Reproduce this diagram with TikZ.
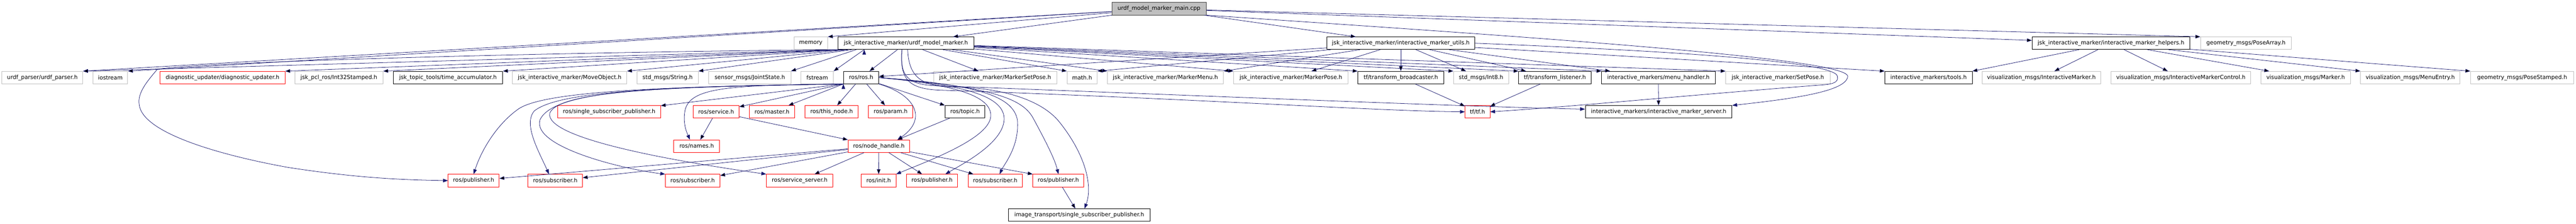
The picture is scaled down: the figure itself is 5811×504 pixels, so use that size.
\documentclass[tikz,border=0pt]{standalone}
\usepackage{fontspec}
\setmainfont{DejaVu Sans}
\usetikzlibrary{arrows.meta}
\definecolor{edgeblue}{HTML}{191970}
\definecolor{boxgrey}{HTML}{BFBFBF}
\definecolor{boxdark}{HTML}{404040}

\begin{document}
\begin{tikzpicture}[x=1pt, y=-1pt,
    every node/.style={font=\fontsize{12.6}{14}\selectfont, minimum height=28pt, inner sep=2pt, line width=1pt},
    gbox/.style={draw=boxgrey, fill=white},
    rbox/.style={draw=red, fill=white},
    bbox/.style={draw=black, fill=white},
    mainbox/.style={draw=boxdark, fill=boxgrey},
    incl/.style={draw=edgeblue, line width=0.9pt, -{Triangle[length=11pt, width=8pt]}}]
    \fill[white] (0,0) rectangle (5811,504);
    \useasboundingbox (0,0) rectangle (5811,504);

    % top file
    \node[mainbox, minimum width=213pt] (main) at (2614.5,19.7) {urdf\_model\_marker\_main.cpp};

    % first level
    \node[gbox, minimum width=76pt] (memory) at (1829,97.3) {memory};
    \node[bbox, minimum width=307pt] (umm) at (2043.5,97.3) {jsk\_interactive\_marker/urdf\_model\_marker.h};
    \node[bbox, minimum width=334pt] (utils) at (3160,97.3) {jsk\_interactive\_marker/interactive\_marker\_utils.h};
    \node[bbox, minimum width=356pt] (helpers) at (4762,97.3) {jsk\_interactive\_marker/interactive\_marker\_helpers.h};
    \node[gbox, minimum width=205pt] (posearray) at (5066.5,97.3) {geometry\_msgs/PoseArray.h};

    % second level
    \node[gbox, minimum width=183pt] (urdfparser) at (95.5,174.7) {urdf\_parser/urdf\_parser.h};
    \node[gbox, minimum width=78pt] (iostream) at (249,174.7) {iostream};
    \node[rbox, minimum width=282pt] (diag) at (502,174.7) {diagnostic\_updater/diagnostic\_updater.h};
    \node[gbox, minimum width=199pt] (int32) at (764.5,174.7) {jsk\_pcl\_ros/Int32Stamped.h};
    \node[bbox, minimum width=247pt] (timeacc) at (1010.5,174.7) {jsk\_topic\_tools/time\_accumulator.h};
    \node[gbox, minimum width=258pt] (moveobj) at (1285,174.7) {jsk\_interactive\_marker/MoveObject.h};
    \node[gbox, minimum width=138pt] (string) at (1506,174.7) {std\_msgs/String.h};
    \node[gbox, minimum width=185pt] (jointstate) at (1691.5,174.7) {sensor\_msgs/JointState.h};
    \node[gbox, minimum width=73pt] (fstream) at (1843.5,174.7) {fstream};
    \node[bbox, minimum width=79pt] (rosh) at (1942.5,174.7) {ros/ros.h};
    \node[gbox, minimum width=278pt] (markersetpose) at (2245,174.7) {jsk\_interactive\_marker/MarkerSetPose.h};
    \node[gbox, minimum width=68pt] (math) at (2441,174.7) {math.h};
    \node[gbox, minimum width=262pt] (markermenu) at (2629,174.7) {jsk\_interactive\_marker/MarkerMenu.h};
    \node[gbox, minimum width=258pt] (markerpose) at (2912,174.7) {jsk\_interactive\_marker/MarkerPose.h};
    \node[bbox, minimum width=194pt] (broadcaster) at (3160,174.7) {tf/transform\_broadcaster.h};
    \node[gbox, minimum width=124pt] (int8) at (3341,174.7) {std\_msgs/Int8.h};
    \node[bbox, minimum width=163pt] (listener) at (3507.5,174.7) {tf/transform\_listener.h};
    \node[bbox, minimum width=256pt] (menuhandler) at (3741,174.7) {interactive\_markers/menu\_handler.h};
    \node[gbox, minimum width=235pt] (setpose) at (4010.5,174.7) {jsk\_interactive\_marker/SetPose.h};
    \node[bbox, minimum width=197pt] (tools) at (4350.5,174.7) {interactive\_markers/tools.h};
    \node[gbox, minimum width=268pt] (intmarker) at (4605,174.7) {visualization\_msgs/InteractiveMarker.h};
    \node[gbox, minimum width=315pt] (intmarkerctrl) at (4919.5,174.7) {visualization\_msgs/InteractiveMarkerControl.h};
    \node[gbox, minimum width=202pt] (marker) at (5201,174.7) {visualization\_msgs/Marker.h};
    \node[gbox, minimum width=224pt] (menuentry) at (5437,174.7) {visualization\_msgs/MenuEntry.h};
    \node[gbox, minimum width=233pt] (posestamped) at (5689.5,174.7) {geometry\_msgs/PoseStamped.h};

    % third level
    \node[rbox, minimum width=232pt] (singlesubpub) at (1374,251.8) {ros/single\_subscriber\_publisher.h};
    \node[rbox, minimum width=103pt] (service) at (1615.5,251.8) {ros/service.h};
    \node[rbox, minimum width=103pt] (master) at (1741.5,251.8) {ros/master.h};
    \node[rbox, minimum width=120pt] (thisnode) at (1876,251.8) {ros/this\_node.h};
    \node[rbox, minimum width=100pt] (param) at (2009,251.8) {ros/param.h};
    \node[bbox, minimum width=90pt] (topic) at (2177,251.8) {ros/topic.h};
    \node[rbox, minimum width=56pt] (tf) at (3333,251.8) {tf/tf.h};
    \node[bbox, minimum width=331pt] (server) at (3741.5,251.8) {interactive\_markers/interactive\_marker\_server.h};

    % fourth level
    \node[rbox, minimum width=103pt] (names) at (1571.5,329.2) {ros/names.h};
    \node[rbox, minimum width=139pt] (nodehandle) at (1982.5,329.2) {ros/node\_handle.h};

    % fifth level
    \node[rbox, minimum width=115pt] (pubA) at (1068.5,406.7) {ros/publisher.h};
    \node[rbox, minimum width=123pt] (subA) at (1252.5,406.7) {ros/subscriber.h};
    \node[rbox, minimum width=123pt] (subB) at (1562.5,406.7) {ros/subscriber.h};
    \node[rbox, minimum width=150pt] (servserv) at (1804,406.7) {ros/service\_server.h};
    \node[rbox, minimum width=78pt] (init) at (1982,406.7) {ros/init.h};
    \node[rbox, minimum width=115pt] (pubB) at (2102.5,406.7) {ros/publisher.h};
    \node[rbox, minimum width=122pt] (subC) at (2245,406.7) {ros/subscriber.h};
    \node[rbox, minimum width=115pt] (pubC) at (2387.5,406.7) {ros/publisher.h};

    \node[bbox, minimum width=319pt] (imgtrans) at (2434.5,484.2) {image\_transport/single\_subscriber\_publisher.h};

    % includes of the main file
    \path[incl] (main) edge (urdfparser.north east) (main) edge (iostream.north east)
        (main) edge (memory.north east) (main) edge (umm) (main) edge (utils)
        (main) edge (helpers) (main) edge (posearray.north west);
    \draw[incl] (main.south east) .. controls (3400,80) and (4170,130) .. (4168,172)
        .. controls (4166,205) and (4050,222) .. (server.north east);

    % includes of urdf_model_marker.h
    \path[incl] ([xshift=6pt]umm.south west) edge (urdfparser.north east)
        ([xshift=10pt]umm.south west) edge (diag.north east)
        ([xshift=14pt]umm.south west) edge (int32.north east)
        ([xshift=18pt]umm.south west) edge (timeacc.north east)
        ([xshift=24pt]umm.south west) edge (moveobj.north east)
        ([xshift=32pt]umm.south west) edge (string.north east)
        ([xshift=42pt]umm.south west) edge (jointstate.north east)
        ([xshift=60pt]umm.south west) edge (fstream.north east)
        (umm) edge (rosh) (umm) edge (markersetpose) (umm) edge (math.north west)
        (umm) edge (markermenu.north west) (umm) edge (markerpose.north west)
        (umm) edge (broadcaster.north west) (umm) edge (int8.north west)
        (umm) edge (listener.north west) (umm) edge (menuhandler.north west)
        (umm) edge (setpose.north west);
    \draw[incl] ([xshift=3pt]umm.south west) .. controls (1200,118) and (450,140) .. (355,156)
        .. controls (330,185) and (310,210) .. (314,235)
        .. controls (320,300) and (500,350) .. (650,377)
        .. controls (800,400) and (900,405) .. (pubA.west);
    \draw[incl] ([xshift=4pt]umm.south) .. controls (2050,170) and (2075,195) .. (2150,196)
        .. controls (2260,197) and (2350,225) .. (2390,275)
        .. controls (2450,350) and (2465,420) .. ([xshift=12pt]imgtrans.north);
    \draw[incl] ([xshift=-9pt]umm.south) .. controls (2030,170) and (2045,190) .. (2110,193)
        .. controls (2700,215) and (3300,240) .. ([yshift=6pt]server.west);
    \draw[incl] ([xshift=-9pt]umm.south) .. controls (2030,175) and (2045,200) .. (2120,203)
        .. controls (2700,222) and (3100,250) .. (tf.west);

    % includes of interactive_marker_utils.h
    \path[incl] (utils) edge (rosh) (utils) edge (math.north east)
        (utils) edge (markermenu.north east) (utils) edge (markerpose)
        (utils) edge (broadcaster) (utils) edge (int8) (utils) edge (listener)
        (utils) edge (menuhandler) (utils) edge (tools.north west);
    \draw[incl] (utils.east) .. controls (3700,112) and (4140,135) .. (4145,172)
        .. controls (4148,188) and (4130,190) .. (4100,192)
        .. controls (3800,215) and (3550,240) .. (tf.east);

    % includes of interactive_marker_helpers.h
    \path[incl] (helpers) edge (tools.north east) (helpers) edge (intmarker)
        (helpers) edge (intmarkerctrl) (helpers) edge (marker)
        (helpers) edge (menuentry.north west) (helpers) edge (posestamped.north west);

    % includes of ros/ros.h
    \path[incl] (rosh.south west) edge (singlesubpub) (rosh.south west) edge (service)
        (rosh.south west) edge (master)
        (rosh) edge (thisnode) (rosh) edge (param) (rosh) edge (topic.north west);
    \draw[incl] (rosh.south west) .. controls (1650,192) and (1555,195) .. (1545,250)
        .. controls (1540,280) and (1550,300) .. ([xshift=-15pt]names.north);
    \draw[incl] (rosh.south east) .. controls (2070,215) and (2090,270) .. ([xshift=42pt]nodehandle.north);
    \draw[incl] (rosh.south west) .. controls (1500,195) and (1230,205) .. (1170,245)
        .. controls (1120,280) and (1085,340) .. (pubA.north);
    \draw[incl] (rosh.south west) .. controls (1500,195) and (1260,205) .. (1205,250)
        .. controls (1180,280) and (1215,340) .. ([xshift=-14pt]subA.north);
    \draw[incl] (rosh.south west) .. controls (1500,195) and (1250,200) .. (1218,270)
        .. controls (1200,330) and (1400,380) .. (subB.north west);
    \draw[incl] (rosh.south west) .. controls (1500,195) and (1260,205) .. (1240,255)
        .. controls (1230,310) and (1500,360) .. (servserv.north west);
    \draw[incl] (rosh.east) .. controls (2150,190) and (2235,215) .. (2235,260)
        .. controls (2235,310) and (2100,360) .. (init.north east);
    \draw[incl] (rosh.east) .. controls (2170,190) and (2262,215) .. (2265,265)
        .. controls (2268,320) and (2170,370) .. ([xshift=30pt]pubB.north);
    \draw[incl] (rosh.east) .. controls (2200,190) and (2285,215) .. (2295,270)
        .. controls (2300,330) and (2265,370) .. ([xshift=10pt]subC.north);
    \draw[incl] (rosh.east) .. controls (2230,195) and (2305,220) .. (2330,265)
        .. controls (2360,320) and (2380,360) .. (pubC.north);

    % lower levels
    \path[incl] (service) edge (names) (service) edge (nodehandle.north west)
        (topic) edge ([xshift=42pt]nodehandle.north)
        (broadcaster) edge (tf) (listener) edge (tf) (menuhandler) edge (server)
        (nodehandle) edge (pubA) (nodehandle) edge (subA) (nodehandle) edge (subB)
        (nodehandle) edge (servserv) (nodehandle) edge (init) (nodehandle) edge (pubB)
        (nodehandle) edge (subC) (nodehandle) edge (pubC.north west)
        (pubC) edge (imgtrans);
\end{tikzpicture}
\end{document}
